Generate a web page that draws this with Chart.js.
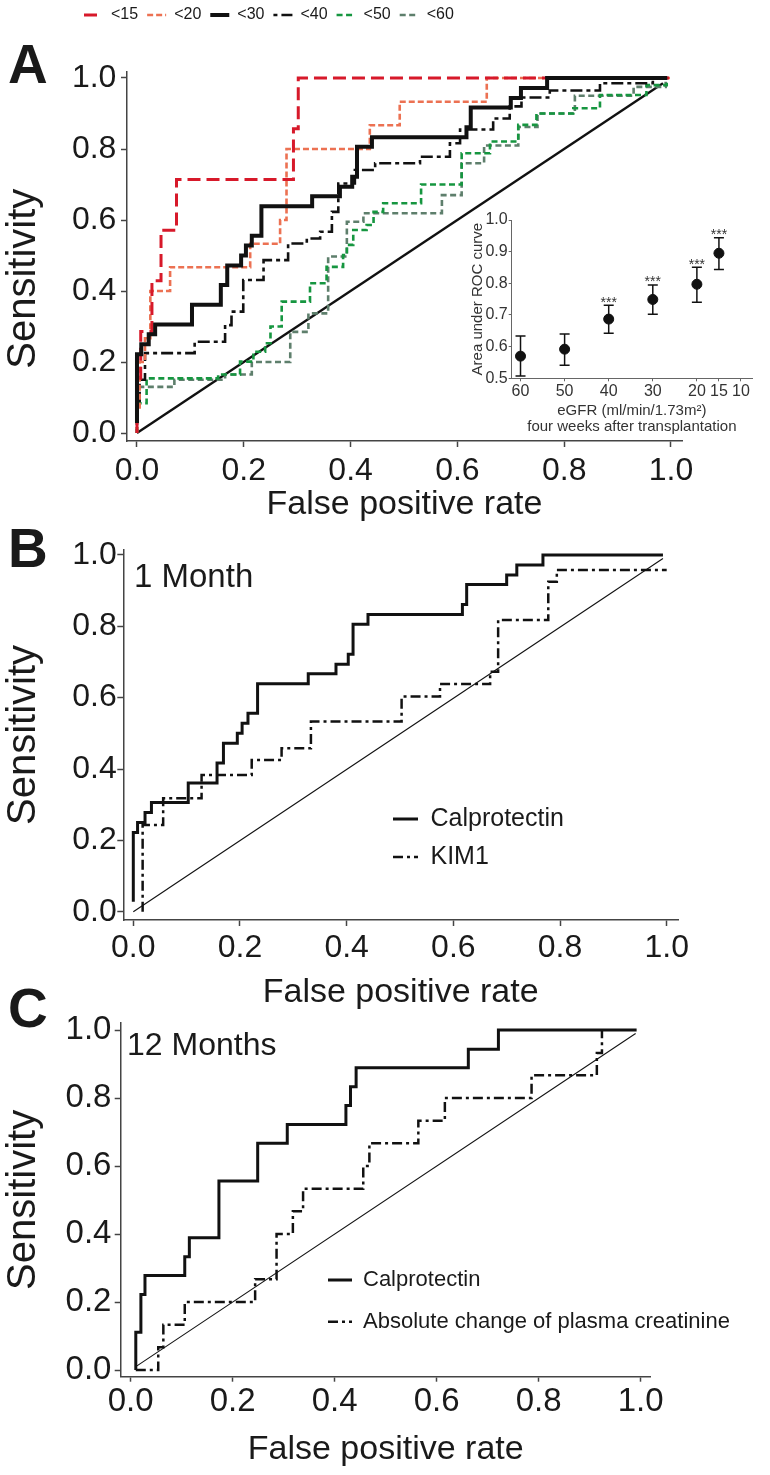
<!DOCTYPE html>
<html>
<head>
<meta charset="utf-8">
<title>ROC curves – calprotectin</title>
<script src="https://cdn.jsdelivr.net/npm/chart.js@4.4.1/dist/chart.umd.min.js"></script>
<style>
  html, body { margin: 0; padding: 0; background: #ffffff; }
  #wrap { position: relative; width: 770px; height: 1475px; overflow: hidden; background: #fff;
          font-family: "Liberation Sans", Arial, Helvetica, sans-serif; color: #1a1a1a; }
  #wrap canvas { position: absolute; }
  .lbl { position: absolute; line-height: 1; white-space: nowrap; }
  .panel { font-weight: bold; font-size: 55px; }
</style>
</head>
<body>
<div id="wrap">
  <canvas id="chartA" width="770" height="530" style="left:0px;top:0px;width:770px;height:530px;"></canvas>
  <canvas id="chartB" width="770" height="490" style="left:0px;top:525px;width:770px;height:490px;"></canvas>
  <canvas id="chartC" width="770" height="475" style="left:0px;top:1000px;width:770px;height:475px;"></canvas>
  <canvas id="chartInset" width="304" height="240" style="left:460px;top:205px;width:304px;height:240px;"></canvas>
  <div class="lbl panel" style="left:8px;top:37px;">A</div>
  <div class="lbl panel" style="left:8px;top:521px;">B</div>
  <div class="lbl panel" style="left:8px;top:981px;">C</div>
  <div class="lbl" style="left:134px;top:559px;font-size:33px;">1 Month</div>
  <div class="lbl" style="left:127px;top:1028px;font-size:32px;">12 Months</div>
</div>
<script>
// ---------- tick labels ----------
const rocTicks = [0, 0.2, 0.4, 0.6, 0.8, 1.0];
const rocTickLabels = ['0.0', '0.2', '0.4', '0.6', '0.8', '1.0'];

// ---------- Panel A : ROC curves by eGFR threshold (fpr where sensitivity rises, new sensitivity) ----------
const fprA15  = [0, 0, 0.007, 0.028, 0.045, 0.074, 0.293, 0.302, 1.0];
const sensA15 = [0, 0.143, 0.286, 0.429, 0.571, 0.714, 0.857, 1.0, 1.0];

const fprA20  = [0, 0, 0.005, 0.015, 0.025, 0.062, 0.212, 0.268, 0.28, 0.436, 0.492, 0.655, 1.0];
const sensA20 = [0, 0.067, 0.2, 0.267, 0.4, 0.467, 0.533, 0.6, 0.8, 0.867, 0.933, 1.0, 1.0];

// <30 (identical to Calprotectin, 1 month)
const fprCal1  = [0, 0, 0.008, 0.022, 0.034, 0.103, 0.157, 0.169, 0.195, 0.204, 0.215, 0.233, 0.328, 0.38, 0.403, 0.412, 0.44, 0.617, 0.625, 0.7, 0.719, 0.768, 0.993];
const sensCal1 = [0.028, 0.222, 0.25, 0.278, 0.306, 0.361, 0.417, 0.472, 0.5, 0.528, 0.556, 0.639, 0.667, 0.694, 0.722, 0.806, 0.833, 0.861, 0.917, 0.944, 0.972, 1.0, 1.0];

const fprA40  = [0, 0, 0.005, 0.015, 0.108, 0.165, 0.177, 0.199, 0.237, 0.283, 0.318, 0.343, 0.365, 0.377, 0.408, 0.446, 0.53, 0.586, 0.605, 0.667, 0.698, 0.72, 0.773, 0.867, 0.966, 0.99];
const sensA40 = [0, 0.09, 0.15, 0.225, 0.257, 0.304, 0.342, 0.431, 0.487, 0.534, 0.548, 0.567, 0.623, 0.703, 0.741, 0.76, 0.778, 0.816, 0.855, 0.886, 0.92, 0.945, 0.965, 0.985, 1.0, 1.0];

const fprA50  = [0, 0, 0.018, 0.152, 0.193, 0.218, 0.24, 0.25, 0.271, 0.324, 0.355, 0.386, 0.393, 0.405, 0.43, 0.443, 0.461, 0.532, 0.608, 0.661, 0.714, 0.748, 0.817, 0.867, 0.954, 0.992];
const sensA50 = [0, 0.084, 0.154, 0.165, 0.201, 0.229, 0.253, 0.3, 0.37, 0.422, 0.468, 0.501, 0.53, 0.572, 0.586, 0.623, 0.647, 0.70, 0.788, 0.821, 0.868, 0.9, 0.915, 0.952, 0.98, 1.0];

const fprA60  = [0, 0, 0.07, 0.165, 0.215, 0.287, 0.321, 0.358, 0.393, 0.424, 0.571, 0.608, 0.65, 0.714, 0.75, 0.82, 0.93, 0.99];
const sensA60 = [0, 0.13, 0.15, 0.165, 0.2, 0.285, 0.337, 0.497, 0.595, 0.619, 0.67, 0.76, 0.81, 0.862, 0.9, 0.95, 0.975, 1.0];

const diagAx = [0, 0.985], diagAy = [0, 0.985];

// ---------- Panel A inset : AUC by eGFR threshold ----------
const eGFR     = [60, 50, 40, 30, 20, 15];
const auc      = [0.570, 0.592, 0.687, 0.749, 0.797, 0.895];
const aucLo    = [0.507, 0.541, 0.642, 0.702, 0.740, 0.844];
const aucHi    = [0.634, 0.640, 0.731, 0.795, 0.851, 0.944];
const aucStars = ['', '', '***', '***', '***', '***'];
const insetXTicks = [60, 50, 40, 30, 20, 15, 10];
const insetYTicks = [0.5, 0.6, 0.7, 0.8, 0.9, 1.0];
const insetYTickLabels = ['0.5', '0.6', '0.7', '0.8', '0.9', '1.0'];

// ---------- Panel B : 1 month ----------
const fprKim  = [0.0175, 0.0175, 0.056, 0.128, 0.222, 0.278, 0.333, 0.503, 0.575, 0.669, 0.684, 0.778, 0.794, 1.0];
const sensKim = [0, 0.243, 0.318, 0.383, 0.425, 0.458, 0.533, 0.603, 0.638, 0.673, 0.818, 0.925, 0.958, 0.958];
const diagBx = [0, 0.993], diagBy = [0, 0.99];

// ---------- Panel C : 12 months ----------
const fprCal12  = [0.01, 0.01, 0.02, 0.028, 0.106, 0.115, 0.173, 0.249, 0.307, 0.422, 0.431, 0.442, 0.662, 0.721, 0.992];
const sensCal12 = [0, 0.111, 0.222, 0.278, 0.333, 0.389, 0.556, 0.667, 0.722, 0.778, 0.833, 0.889, 0.944, 1.0, 1.0];
const fprCrea   = [0.01, 0.054, 0.064, 0.106, 0.244, 0.286, 0.318, 0.338, 0.456, 0.468, 0.564, 0.616, 0.786, 0.914, 0.924];
const sensCrea  = [0, 0.067, 0.133, 0.2, 0.267, 0.4, 0.467, 0.533, 0.6, 0.667, 0.733, 0.8, 0.867, 0.933, 1.0];
const diagCx = [0.01, 0.99], diagCy = [0.01, 0.99];

// =====================================================================
const FONT = '"Liberation Sans", Arial, Helvetica, sans-serif';
Chart.defaults.font.family = FONT;
Chart.defaults.color = '#1a1a1a';

const pts = (xs, ys) => xs.map((x, i) => ({ x: x, y: ys[i] }));

function rocLine(label, xs, ys, color, width, dash, order, stepped) {
  return {
    label: label, data: pts(xs, ys), showLine: true,
    stepped: stepped === false ? false : 'before',
    borderColor: color, backgroundColor: color, borderWidth: width,
    borderDash: dash, borderCapStyle: 'butt', borderJoinStyle: 'miter',
    pointRadius: 0, pointHoverRadius: 0, fill: false, order: order
  };
}

// legend built straight from the datasets' own line styles
function legendLabels(chart) {
  return chart.data.datasets
    .map((d, i) => ({
      text: d.label, datasetIndex: i, hidden: false,
      strokeStyle: d.borderColor, fillStyle: d.borderColor,
      lineWidth: d.borderWidth, lineDash: d.borderDash || [],
      lineCap: 'butt', pointStyle: 'line', fontColor: '#1a1a1a'
    }))
    .filter(it => it.text);
}

// place the legend at a fixed spot of the canvas
const legendPlace = {
  id: 'legendPlace',
  beforeDraw(chart, args, opts) {
    const L = chart.legend;
    if (!L || !opts || opts.x == null) return;
    const pad = L.options.labels.padding;
    L.left = opts.x - pad;
    L.top = opts.y - pad;
    L.right = L.left + 2000;
    L.bottom = L.top + 2000;
  }
};
Chart.register(legendPlace);

function makeRoc(id, cfg) {
  const axisBase = (range, tickPad, tickLen, extra) => Object.assign({
    type: 'linear', min: range[0], max: range[1],
    afterBuildTicks: s => { s.ticks = rocTicks.map(v => ({ value: v })); },
    ticks: {
      autoSkip: false, maxRotation: 0, minRotation: 0, padding: tickPad,
      font: { size: cfg.tickSize }, color: '#1a1a1a',
      callback: (v, i) => rocTickLabels[i]
    },
    grid: { drawOnChartArea: false, drawTicks: true, tickLength: tickLen, tickColor: '#444', tickWidth: 1.5 },
    border: { display: true, color: '#444', width: 1.5 }
  }, extra);

  return new Chart(document.getElementById(id), {
    type: 'scatter',
    data: { datasets: cfg.datasets },
    options: {
      responsive: false, animation: false, devicePixelRatio: 1, events: [],
      layout: { padding: cfg.padding },
      scales: {
        x: axisBase(cfg.xRange, cfg.xTickPad, cfg.xTickLen, {
          title: { display: true, text: 'False positive rate', font: { size: cfg.xTitleSize }, color: '#1a1a1a',
                   padding: { top: 0, bottom: cfg.xTitlePadB } },
          afterFit: s => { s.height = cfg.xH; }
        }),
        y: axisBase(cfg.yRange, cfg.yTickPad, 6, {
          title: { display: true, text: cfg.yTitle, font: { size: cfg.yTitleSize }, color: '#1a1a1a',
                   padding: { top: cfg.yTitlePadT, bottom: 0 } },
          afterFit: s => { s.width = cfg.yW; }
        })
      },
      plugins: {
        legend: cfg.legend,
        tooltip: { enabled: false },
        legendPlace: cfg.legendAt
      }
    }
  });
}

// ---------------- Panel A ----------------
makeRoc('chartA', {
  datasets: [
    rocLine('<15', fprA15, sensA15, '#d7192a', 3, [13, 6], 1),
    rocLine('<20', fprA20, sensA20, '#ec7152', 2.6, [6, 3], 2),
    rocLine('<30', fprCal1, sensCal1, '#111111', 4, [], 0),
    rocLine('<40', fprA40, sensA40, '#111111', 2.6, [4, 4, 12, 4], 3),
    rocLine('<50', fprA50, sensA50, '#169640', 2.6, [6, 3.5], 4),
    rocLine('<60', fprA60, sensA60, '#5e7f6c', 2.6, [6, 3.5], 5),
    rocLine('', diagAx, diagAy, '#111111', 2.4, [], 6, false)
  ],
  padding: { left: 0, right: 88, top: 42, bottom: 0 },
  xRange: [-0.0187, 1.0206], yRange: [-0.0225, 1.0169],
  tickSize: 32, xTickPad: 5, xTickLen: 6, yTickPad: 4.6,
  xTitleSize: 34, xTitlePadB: 4.6, xH: 89,
  yTitle: 'Sensitivity    ', yTitleSize: 40, yTitlePadT: 0, yW: 127,
  legend: {
    display: true, position: 'top', align: 'start', maxHeight: 30,
    labels: { usePointStyle: true, pointStyleWidth: 19, padding: 9, font: { size: 16 },
              color: '#1a1a1a', generateLabels: legendLabels }
  },
  legendAt: { x: 84, y: 7 }
});

// ---------------- Panel A inset ----------------
const ebData = [];
eGFR.forEach((g, i) => {
  ebData.push({ x: g, y: aucLo[i] }, { x: g, y: aucHi[i] }, { x: g, y: null });
});
new Chart(document.getElementById('chartInset'), {
  type: 'scatter',
  data: {
    datasets: [
      { label: 'AUC', data: pts(eGFR, auc), showLine: false, pointRadius: 5, pointStyle: 'circle',
        pointBackgroundColor: '#111', pointBorderColor: '#111', pointBorderWidth: 1 },
      { label: '95% CI', data: ebData, showLine: true, spanGaps: false, borderColor: '#111', borderWidth: 1.5,
        pointStyle: 'line', pointRadius: 5, pointBorderWidth: 1.5, pointBorderColor: '#111', pointBackgroundColor: '#111' }
    ]
  },
  options: {
    responsive: false, animation: false, devicePixelRatio: 1, events: [],
    layout: { padding: { left: 0, right: 12, top: 15, bottom: 0 } },
    scales: {
      x: {
        type: 'linear', reverse: true, min: 7.5, max: 62,
        afterBuildTicks: s => { s.ticks = insetXTicks.map(v => ({ value: v })); },
        ticks: { autoSkip: false, maxRotation: 0, padding: 0.7, font: { size: 16 }, color: '#333',
                 callback: v => String(v) },
        grid: { drawOnChartArea: false, drawTicks: true, tickLength: 3, tickColor: '#666', tickWidth: 1 },
        border: { display: true, color: '#666', width: 1 },
        title: { display: true, text: ['eGFR (ml/min/1.73m\u00b2)', 'four weeks after transplantation'],
                 font: { size: 15, lineHeight: 1.07 }, color: '#333', padding: { top: 0, bottom: 10 } },
        afterFit: s => { s.height = 66.7; }
      },
      y: {
        type: 'linear', min: 0.5, max: 1.0,
        afterBuildTicks: s => { s.ticks = insetYTicks.map(v => ({ value: v })); },
        ticks: { autoSkip: false, padding: 1, font: { size: 16 }, color: '#333',
                 callback: (v, i) => insetYTickLabels[i] },
        grid: { drawOnChartArea: false, drawTicks: true, tickLength: 3, tickColor: '#666', tickWidth: 1 },
        border: { display: true, color: '#666', width: 1 },
        title: { display: true, text: 'Area under ROC curve', font: { size: 15 }, color: '#333',
                 padding: { top: 8.8, bottom: 0 } },
        afterFit: s => { s.width = 51.7; }
      }
    },
    plugins: { legend: { display: false }, tooltip: { enabled: false } }
  },
  plugins: [{
    id: 'stars',
    afterDatasetsDraw(chart) {
      const { ctx, scales } = chart;
      ctx.save();
      ctx.font = '14px ' + FONT;
      ctx.fillStyle = '#333';
      ctx.textAlign = 'center';
      ctx.textBaseline = 'alphabetic';
      aucStars.forEach((s, i) => {
        if (!s) return;
        ctx.fillText(s, scales.x.getPixelForValue(eGFR[i]), scales.y.getPixelForValue(aucHi[i]) + 1.5);
      });
      ctx.restore();
    }
  }]
});

// ---------------- Panel B ----------------
makeRoc('chartB', {
  datasets: [
    rocLine('Calprotectin', fprCal1, sensCal1, '#111111', 3, [], 0),
    rocLine('KIM1', fprKim, sensKim, '#111111', 2.5, [10, 4, 3, 4], 1),
    rocLine('', diagBx, diagBy, '#111111', 1.1, [], 2, false)
  ],
  padding: { left: 0, right: 92, top: 25, bottom: 0 },
  xRange: [-0.01875, 1.0212], yRange: [-0.0233, 1.014],
  tickSize: 32, xTickPad: 3, xTickLen: 6, yTickPad: 0.5,
  xTitleSize: 34, xTitlePadB: 1.6, xH: 95,
  yTitle: 'Sensitivity', yTitleSize: 40, yTitlePadT: 0, yW: 123.3,
  legend: {
    display: true, position: 'chartArea', align: 'start',
    labels: { usePointStyle: true, pointStyleWidth: 25, padding: 13, font: { size: 25 },
              color: '#1a1a1a', generateLabels: legendLabels }
  },
  legendAt: { x: 393, y: 281.5 }
});

// ---------------- Panel C ----------------
makeRoc('chartC', {
  datasets: [
    rocLine('Calprotectin', fprCal12, sensCal12, '#111111', 3, [], 0),
    rocLine('Absolute change of plasma creatinine', fprCrea, sensCrea, '#111111', 2.5, [10, 4, 3, 4], 1),
    rocLine('', diagCx, diagCy, '#111111', 1.1, [], 2, false)
  ],
  padding: { left: 0, right: 119.3, top: 23, bottom: 0 },
  xRange: [-0.0196, 1.0196], yRange: [-0.0197, 1.0206],
  tickSize: 33, xTickPad: 0, xTickLen: 5, yTickPad: 3.3,
  xTitleSize: 34, xTitlePadB: 4.6, xH: 98.3,
  yTitle: 'Sensitivity', yTitleSize: 40, yTitlePadT: 0, yW: 120.7,
  legend: {
    display: true, position: 'chartArea', align: 'start',
    labels: { usePointStyle: true, pointStyleWidth: 24, padding: 19.7, font: { size: 22 },
              color: '#1a1a1a', generateLabels: legendLabels }
  },
  legendAt: { x: 328, y: 269 }
});
</script>
</body>
</html>
